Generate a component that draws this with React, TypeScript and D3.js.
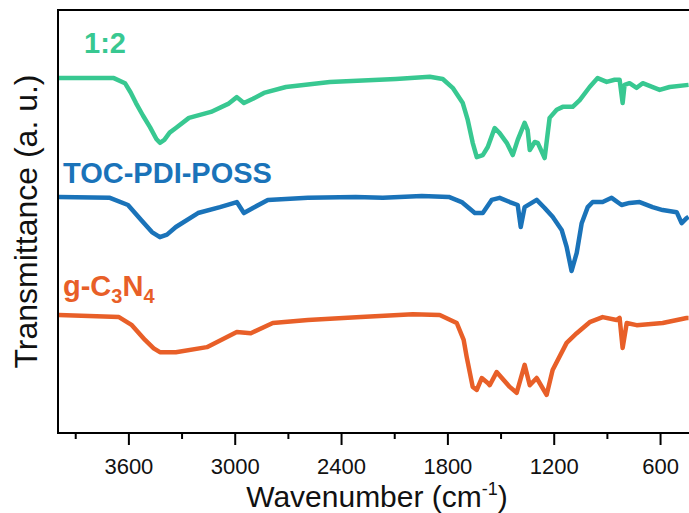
import React from "react";
import * as d3 from "d3";

// wavenumber (cm^-1), transmittance (a.u., offset for display)
const series12: [number, number][] = [
  [3995, 83.9], [3685, 83.9], [3622, 82.7], [3590, 80.5], [3560, 78.0], [3520, 75.0],
  [3481, 72.3], [3445, 69.5], [3425, 68.6], [3400, 69.3], [3370, 71.0],
  [3335, 72.1], [3261, 74.5], [3137, 75.9], [3040, 77.8], [2991, 79.4], [2951, 78.0], [2900, 79.0], [2838, 80.4],
  [2714, 81.8], [2466, 83.0], [2094, 83.7], [1902, 84.2], [1829, 83.7], [1773, 81.6],
  [1716, 78.0], [1688, 74.0], [1660, 68.6], [1637, 65.2], [1603, 65.7], [1575, 67.6],
  [1536, 72.1], [1508, 70.9], [1468, 68.6], [1434, 65.7], [1406, 69.3], [1367, 73.3],
  [1350, 71.6], [1338, 66.9], [1310, 68.8], [1293, 68.6], [1254, 65.0], [1226, 74.5],
  [1186, 76.4], [1152, 77.1], [1096, 77.1], [1056, 78.7], [1000, 81.8], [955, 83.9],
  [904, 83.0], [859, 83.5], [831, 83.5], [814, 78.0], [803, 82.3], [775, 82.7],
  [735, 81.6], [701, 82.7], [605, 81.1], [549, 81.8], [442, 82.3],
];

const seriesTOC: [number, number][] = [
  [3995, 55.8], [3707, 55.6], [3605, 53.9], [3532, 50.4], [3470, 47.5], [3425, 46.3], [3385, 46.9], [3335, 48.7],
  [3210, 52.0], [3086, 53.4], [2991, 54.6], [2951, 52.0], [2900, 53.2], [2816, 55.1],
  [2590, 55.6], [2320, 55.8], [2167, 55.6], [1947, 56.0], [1795, 55.8], [1722, 54.6],
  [1648, 52.0], [1603, 52.0], [1553, 55.1], [1508, 55.6], [1451, 54.6], [1406, 53.9],
  [1389, 48.7], [1367, 53.4], [1299, 55.1], [1254, 53.2], [1209, 51.1], [1158, 48.0],
  [1130, 44.0], [1102, 38.3], [1073, 42.6], [1045, 49.6], [1011, 53.4], [983, 54.6],
  [927, 54.6], [876, 55.6], [820, 53.9], [775, 54.4], [718, 54.6], [645, 53.4],
  [588, 52.7], [509, 52.2], [481, 49.6], [453, 50.8], [442, 51.1],
];

const seriesCN: [number, number][] = [
  [3995, 27.9], [3656, 27.4], [3583, 25.5], [3509, 22.0], [3460, 20.0], [3425, 19.1], [3335, 19.1],
  [3160, 20.3], [2991, 23.9], [2912, 23.6], [2788, 26.0], [2590, 26.7], [2291, 27.4],
  [1998, 28.1], [1846, 27.9], [1750, 26.0], [1711, 22.0], [1694, 18.0], [1660, 10.9],
  [1637, 10.2], [1609, 13.0], [1575, 11.8], [1564, 11.3], [1525, 14.4], [1451, 10.9],
  [1412, 9.5], [1367, 16.1], [1338, 11.3], [1299, 13.0], [1243, 9.0], [1209, 14.9],
  [1130, 21.3], [1073, 23.6], [1000, 26.2], [927, 27.4], [848, 26.7], [831, 27.2],
  [814, 20.1], [791, 26.0], [735, 25.5], [588, 26.0], [453, 27.2], [442, 27.2],
];

const majorTicks = [3600, 3000, 2400, 1800, 1200, 600];
const minorTicks = [3900, 3300, 2700, 2100, 1500, 900];

const seriesLabels = ["1:2", "TOC-PDI-POSS", "g-C3N4"];
const seriesColors = ["#38c891", "#1a73b9", "#e85f28"];

const W = 689;
const H = 513;
const left = 58;
const right = 696;
const top = 10;
const bottom = 433;

export default function App() {
  const x = d3.scaleLinear().domain([4000, 400]).range([left, right]);
  const y = d3.scaleLinear().domain([0, 100]).range([bottom, top]);
  const line = d3
    .line<[number, number]>()
    .x((d) => x(d[0]))
    .y((d) => y(d[1]));
  const allSeries = [series12, seriesTOC, seriesCN];
  const font = "'Liberation Sans', Arial, sans-serif";

  return (
    <svg
      width={W}
      height={H}
      style={{ position: "absolute", left: 0, top: 0, background: "#fff" }}
      fontFamily={font}
    >
      <defs>
        <clipPath id="plot">
          <rect x={left} y={top} width={right - left} height={bottom - top} />
        </clipPath>
      </defs>
      <g clipPath="url(#plot)">
        {allSeries.map((s, i) => (
          <path
            key={i}
            d={line(s) || ""}
            fill="none"
            stroke={seriesColors[i]}
            strokeWidth={4.5}
            strokeLinejoin="round"
          />
        ))}
      </g>
      {/* frame */}
      <path
        d={`M${left},${bottom}V${top}H${right}V${bottom}Z`}
        fill="none"
        stroke="#000"
        strokeWidth={2}
      />
      {majorTicks.map((t) => (
        <g key={t}>
          <line x1={x(t)} x2={x(t)} y1={bottom} y2={bottom + 12} stroke="#000" strokeWidth={2} />
          <text x={x(t)} y={474} textAnchor="middle" fontSize={22} fill="#111">
            {t}
          </text>
        </g>
      ))}
      {minorTicks.map((t) => (
        <line key={t} x1={x(t)} x2={x(t)} y1={bottom} y2={bottom + 6} stroke="#000" strokeWidth={2} />
      ))}
      <text x={(left + right) / 2} y={507} textAnchor="middle" fontSize={30} fill="#111">
        Wavenumber (cm
        <tspan fontSize={18} dy={-12}>-1</tspan>
        <tspan dy={12}>)</tspan>
      </text>
      <text
        transform={`translate(37,${(top + bottom) / 2}) rotate(-90)`}
        textAnchor="middle"
        fontSize={32}
        fill="#111"
      >
        Transmittance (a. u.)
      </text>
      {/* series labels */}
      <text x={84} y={53} fontSize={29} fontWeight="bold" fill={seriesColors[0]}>
        {seriesLabels[0]}
      </text>
      <text x={63} y={183} fontSize={29} fontWeight="bold" fill={seriesColors[1]}>
        {seriesLabels[1]}
      </text>
      <text x={63} y={296} fontSize={29} fontWeight="bold" fill={seriesColors[2]}>
        g-C
        <tspan fontSize={20} dy={7}>3</tspan>
        <tspan dy={-7}>N</tspan>
        <tspan fontSize={20} dy={7}>4</tspan>
      </text>
    </svg>
  );
}
